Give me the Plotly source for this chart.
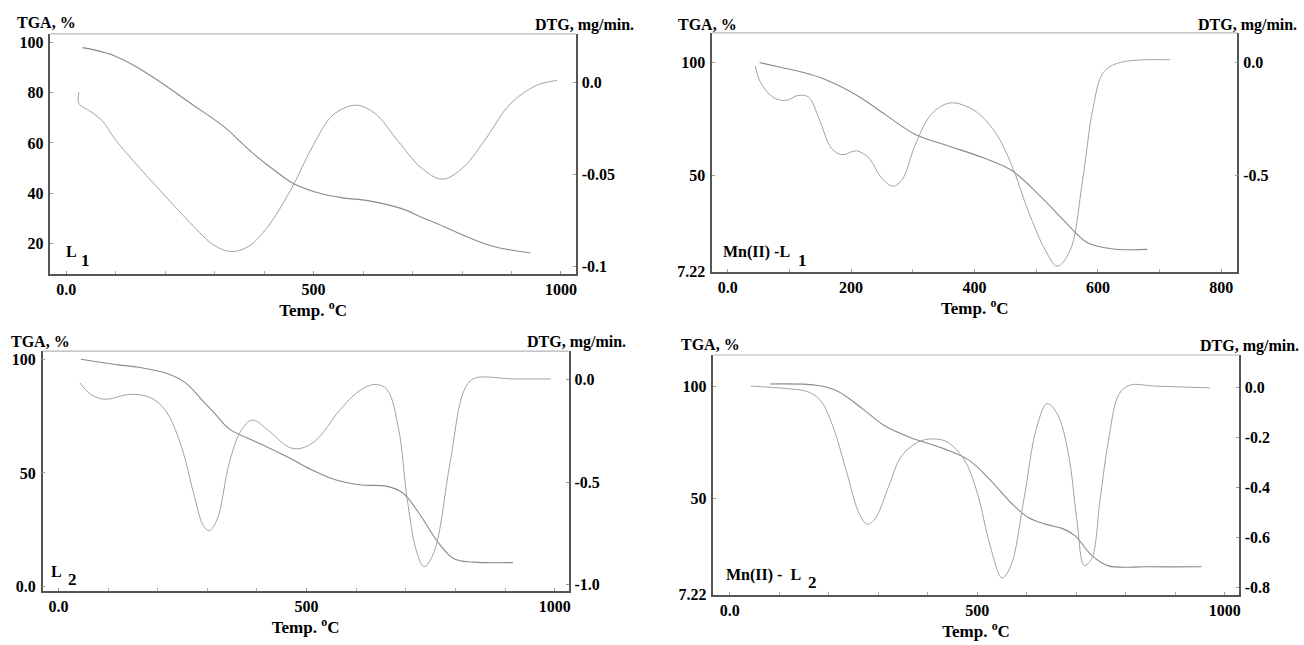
import plotly.graph_objects as go

# ---------------- data ----------------
# Panel 1 : L1
L1_tga_temp = [33, 58, 97, 143, 190, 252, 318, 376, 422, 461, 516, 562, 609, 678, 717, 764, 810, 864, 938]
L1_tga = [98.0, 97.0, 94.8, 90.2, 84.3, 75.7, 66.6, 56.1, 48.9, 43.6, 39.7, 38.0, 37.0, 33.8, 30.5, 26.6, 22.6, 18.7, 16.1]
L1_dtg_temp = [25.6, 25.6, 50, 74, 97, 136, 190, 252, 298, 333, 368, 407, 453, 500, 539, 585, 624, 671, 717, 760,
               802, 849, 895, 950, 992]
L1_dtg = [-0.0054, -0.0116, -0.0161, -0.0214, -0.0304, -0.0429, -0.0589, -0.0768, -0.0884, -0.0920, -0.0893,
          -0.0786, -0.0589, -0.0339, -0.0179, -0.0125, -0.0170, -0.0321, -0.0464, -0.0527, -0.0464, -0.0304,
          -0.0125, -0.0018, 0.0009]

# Panel 2 : Mn(II)-L1
MnL1_tga_temp = [51.5, 87, 121, 155, 209, 256, 304, 358, 412, 460, 507, 548, 582, 622, 680]
MnL1_tga = [100.0, 97.8, 95.7, 92.8, 85.5, 76.8, 68.1, 63.0, 58.0, 52.2, 40.6, 29.0, 20.3, 17.4, 17.1]
MnL1_dtg_temp = [44.7, 53, 73, 94, 114, 131, 148, 168, 185, 209, 229, 249, 268, 283, 304, 331, 361, 399, 433, 460,
                 487, 515, 534, 555, 575, 592, 609, 636, 717]
MnL1_dtg = [-0.015, -0.087, -0.153, -0.168, -0.146, -0.153, -0.248, -0.379, -0.408, -0.391, -0.423, -0.510, -0.547,
            -0.517, -0.364, -0.226, -0.179, -0.211, -0.306, -0.452, -0.656, -0.831, -0.901, -0.831, -0.525,
            -0.204, -0.044, 0.000, 0.012]

# Panel 3 : L2
L2_tga_temp = [45, 121, 161, 216, 256, 288, 316, 344, 399, 455, 511, 558, 606, 662, 694, 726, 765, 797, 837, 916]
L2_tga = [100, 97.5, 96.5, 93.9, 89.6, 82.4, 75.9, 69.4, 63.6, 57.8, 51.3, 47.0, 44.8, 44.1, 41.2, 32.5, 19.5,
          12.3, 10.8, 10.6]
L2_dtg_temp = [43, 65, 93, 145, 185, 216, 248, 272, 292, 304, 320, 344, 368, 391, 423, 463, 487, 519, 566, 606,
               638, 662, 686, 702, 722, 737, 757, 789, 817, 837, 916, 992]
L2_dtg = [-0.016, -0.072, -0.096, -0.072, -0.088, -0.152, -0.328, -0.552, -0.712, -0.736, -0.680, -0.408, -0.248,
          -0.197, -0.248, -0.328, -0.336, -0.296, -0.152, -0.056, -0.024, -0.048, -0.248, -0.568, -0.840, -0.912,
          -0.840, -0.408, -0.056, 0.005, 0.003, 0.003]

# Panel 4 : Mn(II)-L2
MnL2_tga_temp = [81, 175, 218, 269, 312, 363, 432, 483, 526, 568, 603, 637, 671, 697, 731, 765, 842, 953]
MnL2_tga = [101.0, 100.4, 97.8, 89.8, 82.5, 77.3, 72.2, 67.1, 58.3, 48.1, 41.5, 38.6, 36.7, 33.5, 24.7, 20.0,
            19.6, 19.6]
MnL2_dtg_temp = [43, 115, 158, 184, 209, 235, 261, 278, 295, 321, 346, 380, 410, 440, 474, 500, 526, 550, 568,
                 594, 620, 641, 662, 684, 701, 716, 731, 748, 765, 786, 808, 859, 970]
MnL2_dtg = [0.007, -0.003, -0.016, -0.053, -0.158, -0.330, -0.502, -0.548, -0.521, -0.396, -0.277, -0.218, -0.205,
            -0.218, -0.290, -0.422, -0.634, -0.763, -0.713, -0.449, -0.158, -0.063, -0.106, -0.264, -0.528, -0.713,
            -0.686, -0.449, -0.211, -0.026, 0.011, 0.007, 0.000]

# tick labels
x_ticks_1000 = [0, 500, 1000]
x_ticktext_1000 = ["0.0", "500", "1000"]
x_ticks_800 = [0, 200, 400, 600, 800]
x_ticktext_800 = ["0.0", "200", "400", "600", "800"]
sample_main = ["L", "Mn(II) -L", "L", "Mn(II) -  L"]
sample_sub = ["1", "1", "2", "2"]

# ---------------- layout helpers ----------------
W, H = 1304, 645
def fx(px):
    return px / W
def fy(py):
    return 1 - py / H

FONT = "Liberation Serif"
TGA_COLOR = "#8a8a8a"
DTG_COLOR = "#a2a2a2"

panels = [
    dict(T1=L1_tga_temp, tga=L1_tga, T2=L1_dtg_temp, dtg=L1_dtg,
         box=(50.5, 576.7, 34.3, 277.7), xr=[-32, 1030], xt=x_ticks_1000, xtt=x_ticktext_1000,
         yr=[7.8, 103.5], yt=[20, 40, 60, 80, 100], ytt=["20", "40", "60", "80", "100"],
         y2r=[-0.1041, 0.02625], y2t=[0, -0.05, -0.1], y2tt=["0.0", "-0.05", "-0.1"],
         tga_lbl=(15, 23), dtg_lbl=(637, 25), samp=(64, 255), sub=(79, 264)),
    dict(T1=MnL1_tga_temp, tga=MnL1_tga, T2=MnL1_dtg_temp, dtg=MnL1_dtg,
         box=(713.4, 1239.2, 33.3, 275.5), xr=[-25, 826], xt=x_ticks_800, xtt=x_ticktext_800,
         yr=[7.22, 113.2], yt=[7.22, 50, 100], ytt=["7.22", "50", "100"],
         y2r=[-0.925, 0.131], y2t=[0, -0.5], y2tt=["0.0", "-0.5"],
         tga_lbl=(677, 25), dtg_lbl=(1301, 25), samp=(722, 256), sub=(797, 264)),
    dict(T1=L2_tga_temp, tga=L2_tga, T2=L2_dtg_temp, dtg=L2_dtg,
         box=(42.7, 569.4, 356, 599.5), xr=[-32, 1028], xt=x_ticks_1000, xtt=x_ticktext_1000,
         yr=[-1.95, 103.6], yt=[0, 50, 100], ytt=["0.0", "50", "100"],
         y2r=[-1.031, 0.139], y2t=[0, -0.5, -1.0], y2tt=["0.0", "-0.5", "-1.0"],
         tga_lbl=(9, 346), dtg_lbl=(629, 347), samp=(49, 580), sub=(66, 588)),
    dict(T1=MnL2_tga_temp, tga=MnL2_tga, T2=MnL2_dtg_temp, dtg=MnL2_dtg,
         box=(714.5, 1240.6, 360, 603), xr=[-33, 1028], xt=x_ticks_1000, xtt=x_ticktext_1000,
         yr=[7.22, 113.9], yt=[7.22, 50, 100], ytt=["7.22", "50", "100"],
         y2r=[-0.830, 0.132], y2t=[0, -0.2, -0.4, -0.6, -0.8], y2tt=["0.0", "-0.2", "-0.4", "-0.6", "-0.8"],
         tga_lbl=(680, 349), dtg_lbl=(1303, 351), samp=(725, 583), sub=(807, 591)),
]

fig = go.Figure()
layout = dict(
    width=W, height=H, margin=dict(l=0, r=0, t=0, b=0),
    paper_bgcolor="white", plot_bgcolor="white", showlegend=False,
    font=dict(family=FONT, size=16, color="black"),
)
annotations = []
shapes = []
tickfont = dict(family=FONT, size=16, color="black", weight="bold")
labfont = dict(family=FONT, size=16, color="black", weight="bold")
sampfont = dict(family=FONT, size=16, color="black", weight="bold")
subfont = dict(family=FONT, size=17, color="black", weight="bold")

for i, p in enumerate(panels, start=1):
    xa = "x" if i == 1 else f"x{i}"
    ly = 2 * i - 1
    ry = 2 * i
    lya = "y" if ly == 1 else f"y{ly}"
    rya = f"y{ry}"
    fig.add_trace(go.Scatter(x=p["T1"], y=p["tga"], mode="lines", xaxis=xa, yaxis=lya,
                             line=dict(color=TGA_COLOR, width=1.1, shape="spline", smoothing=1.0)))
    fig.add_trace(go.Scatter(x=p["T2"], y=p["dtg"], mode="lines", xaxis=xa, yaxis=rya,
                             line=dict(color=DTG_COLOR, width=1.0, shape="spline", smoothing=1.0)))
    l, r, t, b = p["box"]
    xkey = "xaxis" if i == 1 else f"xaxis{i}"
    lykey = "yaxis" if ly == 1 else f"yaxis{ly}"
    rykey = f"yaxis{ry}"
    layout[xkey] = dict(
        domain=[fx(l), fx(r)], anchor=lya, range=p["xr"], showgrid=False, zeroline=False,
        showline=True, linecolor="#555", linewidth=1.5, mirror=False,
        tickmode="array", tickvals=p["xt"], ticktext=p["xtt"], ticks="inside", ticklen=3,
        tickcolor="#999", tickfont=tickfont, ticklabelstandoff=0,
        minor=dict(ticks="inside", dtick=100, ticklen=3, tickcolor="#aaa", showgrid=False),
        title=dict(text="Temp. <sup>o</sup>C", font=dict(family=FONT, size=17, color="black", weight="bold"),
                   standoff=1),
    )
    layout[lykey] = dict(
        domain=[fy(b), fy(t)], anchor=xa, range=p["yr"], showgrid=False, zeroline=False,
        showline=True, linecolor="#555", linewidth=1.5,
        tickmode="array", tickvals=p["yt"], ticktext=p["ytt"], ticks="inside", ticklen=3,
        tickcolor="#999", tickfont=tickfont, ticklabelstandoff=2,
    )
    layout[rykey] = dict(
        overlaying=lya, side="right", anchor=xa, range=p["y2r"], showgrid=False, zeroline=False,
        showline=True, linecolor="#555", linewidth=1.5,
        tickmode="array", tickvals=p["y2t"], ticktext=p["y2tt"], ticks="inside", ticklen=3,
        tickcolor="#999", tickfont=tickfont, ticklabelstandoff=1,
    )
    # light top border of the frame
    shapes.append(dict(type="line", xref="paper", yref="paper", x0=fx(l), x1=fx(r), y0=fy(t), y1=fy(t),
                       line=dict(color="#b5b5b5", width=1.2)))
    tx, ty = p["tga_lbl"]
    annotations.append(dict(text="TGA, %", xref="paper", yref="paper", x=fx(tx), y=fy(ty),
                            xanchor="left", yanchor="middle", showarrow=False, font=labfont))
    dx, dy = p["dtg_lbl"]
    annotations.append(dict(text="DTG, mg/min.", xref="paper", yref="paper", x=fx(dx), y=fy(dy),
                            xanchor="right", yanchor="middle", showarrow=False, font=labfont))
    sx, sy = p["samp"]
    annotations.append(dict(text=sample_main[i - 1], xref="paper", yref="paper", x=fx(sx), y=fy(sy),
                            xanchor="left", yanchor="middle", showarrow=False, font=sampfont))
    bx, by = p["sub"]
    annotations.append(dict(text=sample_sub[i - 1], xref="paper", yref="paper", x=fx(bx), y=fy(by),
                            xanchor="left", yanchor="middle", showarrow=False, font=subfont))

layout["annotations"] = annotations
layout["shapes"] = shapes
fig.update_layout(**layout)
fig.write_html(
    "out.html",
    config={"displayModeBar": False},
    post_script="document.body.style.margin='0';document.body.style.padding='0';"
                "document.body.style.overflow='hidden';",
)
